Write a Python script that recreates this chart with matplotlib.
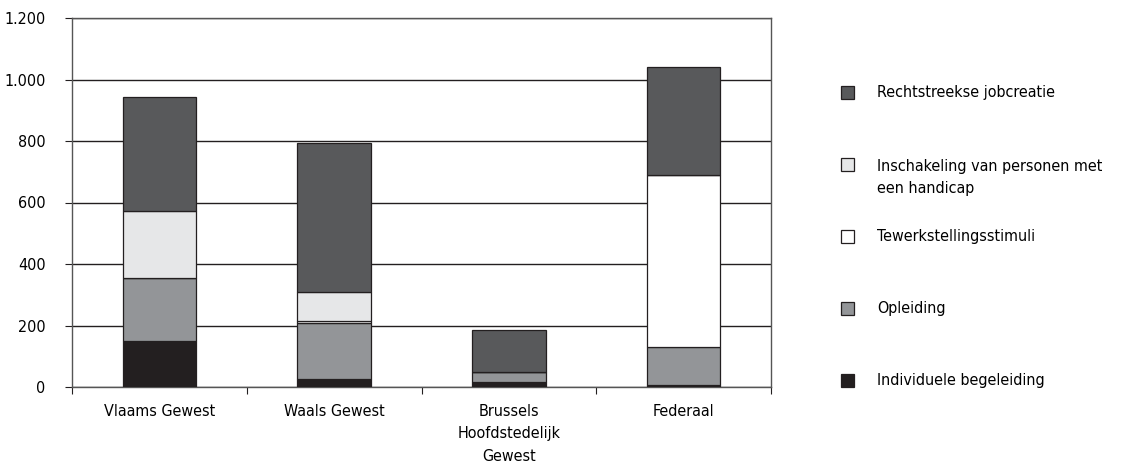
import numpy as np
from matplotlib import pyplot as plt
from matplotlib.patches import Rectangle
from matplotlib.ticker import FuncFormatter

plt.rcParams['font.family'] = ['DejaVu Sans']
plt.rcParams['font.stretch'] = 'condensed'

categories = ["Vlaams Gewest", "Waals Gewest", "Brussels\nHoofdstedelijk\nGewest", "Federaal"]

# stacked from bottom to top
individuele = [148, 25, 17, 5]
opleiding = [206, 183, 33, 124]
tewerkstelling = [0, 7, 0, 561]
inschakeling = [217, 93, 0, 0]
rechtstreeks = [372, 485, 136, 350]

series = [
    ("Individuele begeleiding", individuele, "#231f20"),
    ("Opleiding", opleiding, "#939598"),
    ("Tewerkstellingsstimuli", tewerkstelling, "#ffffff"),
    ("Inschakeling van personen met\neen handicap", inschakeling, "#e6e7e8"),
    ("Rechtstreekse jobcreatie", rechtstreeks, "#58595b"),
]

edge = "#231f20"
fs = 11.5
fig = plt.figure(figsize=(11.21, 4.72), dpi=100)
ax = fig.add_axes([72 / 1121, 85 / 472, 699 / 1121, 369 / 472])

x = np.arange(len(categories))
bottom = np.zeros(len(categories))
for name, vals, col in series:
    vals = np.array(vals, dtype=float)
    ax.bar(x, vals, 0.42, bottom=bottom, color=col, edgecolor=edge, linewidth=0.9, zorder=3)
    bottom += vals

ax.set_xlim(-0.5, len(categories) - 0.5)
ax.set_ylim(0, 1200)
ax.set_yticks(np.arange(0, 1201, 200))
ax.yaxis.set_major_formatter(FuncFormatter(lambda v, p: "{:,.0f}".format(v).replace(",", ".")))
ax.grid(axis='y', color=edge, linewidth=1.0, zorder=0)

ax.set_xticks(np.arange(-0.5, len(categories), 1.0))
ax.set_xticklabels([])
ax.set_xticks(x, minor=True)
ax.set_xticklabels(categories, minor=True, fontsize=fs, linespacing=1.65)
ax.tick_params(axis='x', which='minor', length=0, pad=12)
ax.tick_params(axis='x', which='major', length=5, color=edge)
ax.tick_params(axis='y', length=5, color=edge, labelsize=fs, pad=14)
for sp in ax.spines.values():
    sp.set_color("#555555")
    sp.set_linewidth(1.0)

# legend, top to bottom
legend_rows = [
    ("Rechtstreekse jobcreatie", "#58595b", 93),
    ("Inschakeling van personen met\neen handicap", "#e6e7e8", 165),
    ("Tewerkstellingsstimuli", "#ffffff", 237),
    ("Opleiding", "#939598", 309),
    ("Individuele begeleiding", "#231f20", 381),
]
for label, col, ypix in legend_rows:
    fig.add_artist(Rectangle((841 / 1121, (472 - ypix - 6) / 472), 13 / 1121, 13 / 472,
                             transform=fig.transFigure, facecolor=col, edgecolor=edge, linewidth=0.9))
    ytext = ypix + 12.5 * label.count("\n")
    fig.text(877 / 1121, (472 - ytext) / 472, label, fontsize=fs, va='center',
             linespacing=1.65, transform=fig.transFigure)

fig.savefig("out.png", dpi=100)
